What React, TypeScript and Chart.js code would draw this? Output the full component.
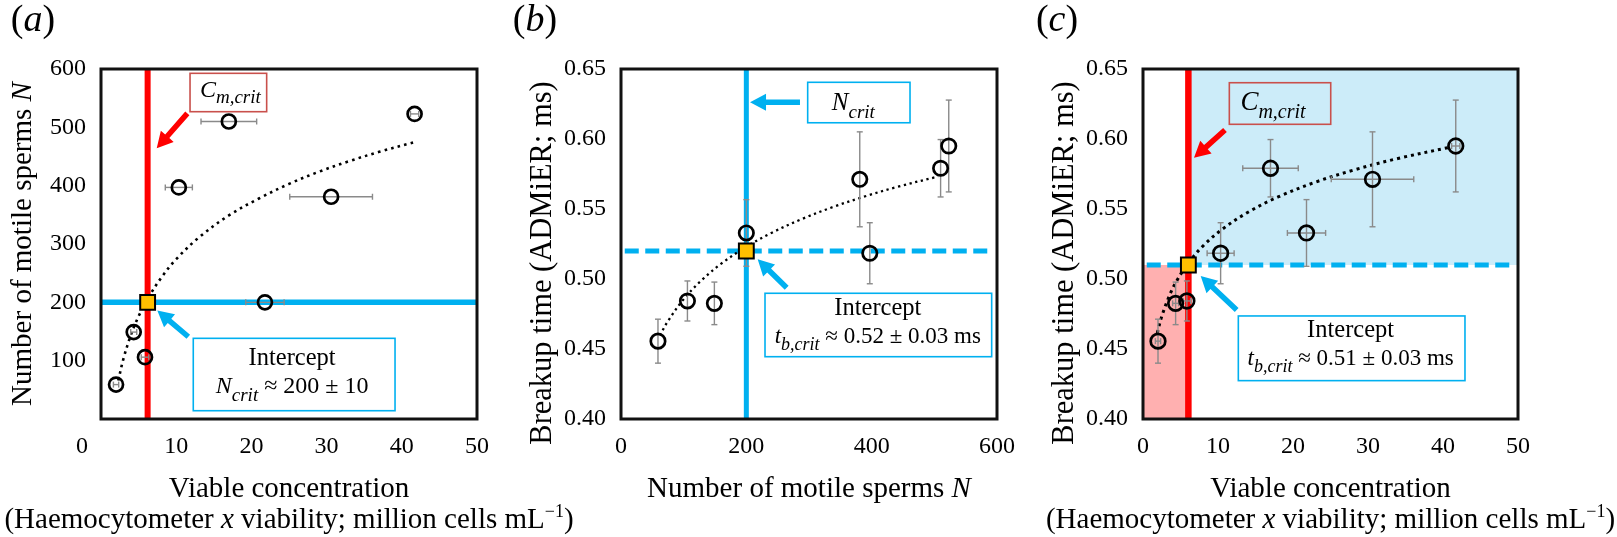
import React, { useEffect, useRef } from 'react';
import { Chart, registerables } from 'chart.js';

Chart.register(...registerables);

const W = 1617;
const H = 537;
const SERIF = "'Liberation Serif', 'Times New Roman', Tinos, 'DejaVu Serif', serif";
const BLUE = '#00b0f0';
const RED = '#ff0000';
const GOLD = '#ffc000';
const ERR_GREY = '#8a8a8a';
const BOX_RED = '#c9504c';
const PINK = '#ffb0b0';
const PALE_BLUE = '#ccecf9';

// ---------- data ----------
const viableConcentration = [2.0, 4.35, 5.85, 10.35, 17.0, 21.8, 30.6, 41.7];
const viableConcentrationErr = [0.35, 0.4, 0.5, 1.8, 3.7, 2.55, 5.5, 0.55];
const motileSperms = [59, 149, 106, 397, 510, 200, 381, 523];
const breakupTime = [0.4556, 0.4826, 0.4843, 0.5184, 0.5791, 0.5329, 0.5712, 0.595];
const breakupTimeErr = [0.0157, 0.0152, 0.0143, 0.0218, 0.0205, 0.0238, 0.0339, 0.0328];

// dotted trend lines
const trendA_x = [2.3, 3, 4, 5, 6.2, 8, 10, 13, 17, 21, 25, 29, 33, 37, 41.5];
const trendA_y = [66, 104, 145, 176, 206, 242, 274, 311, 349, 378, 403, 424, 442, 458, 474];
const trendB_x = [62, 75, 100, 130, 160, 198, 240, 290, 340, 390, 440, 506];
const trendB_y = [0.4597, 0.47, 0.4856, 0.4997, 0.511, 0.5225, 0.5329, 0.5431, 0.5517, 0.5591, 0.5657, 0.5732];
const trendC_x = [1.9, 2.5, 3.5, 4.5, 6.0, 8, 10.5, 14, 18, 23, 28, 34, 40.9];
const trendC_y = [0.4614, 0.4733, 0.4878, 0.4987, 0.5111, 0.5236, 0.5353, 0.5477, 0.5586, 0.5692, 0.5777, 0.5861, 0.5941];

// critical values
const nCrit = 200;
const cmCritA = 6.2;
const cmCritC = 6.05;
const tbCritB = 0.52;
const tbCritC = 0.51;

// tick values
const ticksConc = [0, 10, 20, 30, 40, 50];
const ticksMotile = [100, 200, 300, 400, 500, 600];
const ticksMotileX = [0, 200, 400, 600];
const ticksTime = [0.4, 0.45, 0.5, 0.55, 0.6, 0.65];

// ---------- drawing helpers ----------
type Seg = { t: string; s: number; it?: boolean; dy?: number };
type Box4 = [number, number, number, number];
const fnt = (s: number, it = false) => `${it ? 'italic ' : ''}${s}px ${SERIF}`;

function richWidth(ctx: CanvasRenderingContext2D, segs: Seg[]) {
  let w = 0;
  for (const g of segs) {
    ctx.font = fnt(g.s, g.it);
    w += ctx.measureText(g.t).width;
  }
  return w;
}

function drawRich(ctx: CanvasRenderingContext2D, segs: Seg[], cx: number, y: number) {
  const w = richWidth(ctx, segs);
  let x = cx - w / 2;
  ctx.textAlign = 'left';
  ctx.textBaseline = 'alphabetic';
  ctx.fillStyle = '#000';
  for (const g of segs) {
    ctx.font = fnt(g.s, g.it);
    ctx.fillText(g.t, x, y + (g.dy || 0));
    x += ctx.measureText(g.t).width;
  }
}

function drawRichUp(ctx: CanvasRenderingContext2D, segs: Seg[], x: number, cy: number) {
  ctx.save();
  ctx.translate(x, cy);
  ctx.rotate(-Math.PI / 2);
  drawRich(ctx, segs, 0, 0);
  ctx.restore();
}

function drawArrow(ctx: CanvasRenderingContext2D, x1: number, y1: number, x2: number, y2: number, color: string) {
  const shaft = 5.5, headL = 16, headW = 17;
  const ang = Math.atan2(y2 - y1, x2 - x1);
  const len = Math.hypot(x2 - x1, y2 - y1);
  ctx.save();
  ctx.translate(x1, y1);
  ctx.rotate(ang);
  ctx.beginPath();
  ctx.moveTo(0, -shaft / 2);
  ctx.lineTo(len - headL, -shaft / 2);
  ctx.lineTo(len - headL, -headW / 2);
  ctx.lineTo(len, 0);
  ctx.lineTo(len - headL, headW / 2);
  ctx.lineTo(len - headL, shaft / 2);
  ctx.lineTo(0, shaft / 2);
  ctx.closePath();
  ctx.fillStyle = color;
  ctx.fill();
  ctx.restore();
}

type Annotation = {
  critBox: Box4; critColor: string; critSegs: Seg[]; critDx: number; critBase: number;
  critArrow: Box4; critArrowColor: string;
  interBox: Box4; interDx: number; interBase1: number; interBase2: number; interSegs: Seg[];
  interArrow: Box4;
};

type PanelSpec = {
  tag: string; tagX: number;
  box: Box4;
  xRange: [number, number]; yRange: [number, number];
  xTicks: number[]; yTicks: number[]; yDigits: number;
  shiftedZero?: boolean;
  xs: number[]; ys: number[]; ex?: number[]; ey?: number[];
  trendX: number[]; trendY: number[]; trendWidth: number; trendDash: number[];
  markerRadius: number;
  crit: [number, number];
  refLines: any[];
  shading?: any[];
  ann: Annotation;
  yTitle: Seg[]; yTitleDy: number;
  xTitle: Seg[][];
};

const refLine = (pts: { x: number; y: number }[], color: string, width: number, order: number, dash: number[] = []) => ({
  type: 'line', label: 'ref', data: pts, borderColor: color, borderWidth: width, borderDash: dash,
  pointRadius: 0, fill: false, tension: 0, order,
});

const shade = (pts: { x: number; y: number }[], fill: any, color: string) => ({
  type: 'line', label: 'shade', data: pts, borderColor: 'rgba(0,0,0,0)', borderWidth: 1,
  pointRadius: 0, fill, backgroundColor: color, tension: 0, order: 10,
});

function drawErrorBars(chart: any, p: PanelSpec) {
  const ctx: CanvasRenderingContext2D = chart.ctx;
  const X = chart.scales.x, Y = chart.scales.y;
  const cap = 3;
  ctx.save();
  ctx.strokeStyle = ERR_GREY;
  ctx.lineWidth = 1.4;
  const seg = (a: number, b: number, c: number, d: number) => {
    ctx.beginPath(); ctx.moveTo(a, b); ctx.lineTo(c, d); ctx.stroke();
  };
  p.xs.forEach((xv, i) => {
    const yv = p.ys[i];
    const px = X.getPixelForValue(xv), py = Y.getPixelForValue(yv);
    if (p.ex) {
      const a = X.getPixelForValue(xv - p.ex[i]), b = X.getPixelForValue(xv + p.ex[i]);
      seg(a, py, b, py); seg(a, py - cap, a, py + cap); seg(b, py - cap, b, py + cap);
    }
    if (p.ey) {
      const a = Y.getPixelForValue(yv - p.ey[i]), b = Y.getPixelForValue(yv + p.ey[i]);
      seg(px, a, px, b); seg(px - cap, a, px + cap, a); seg(px - cap, b, px + cap, b);
    }
  });
  ctx.restore();
}

function drawAnnotation(chart: any, a: Annotation) {
  const ctx: CanvasRenderingContext2D = chart.ctx;
  const X = chart.scales.x, Y = chart.scales.y;
  const px = (v: number) => X.getPixelForValue(v);
  const py = (v: number) => Y.getPixelForValue(v);
  const box = (b: Box4) => {
    const x1 = px(b[0]), y1 = py(b[1]), x2 = px(b[2]), y2 = py(b[3]);
    return { l: Math.min(x1, x2), t: Math.min(y1, y2), r: Math.max(x1, x2), b: Math.max(y1, y2) };
  };
  const cb = box(a.critBox);
  ctx.save();
  ctx.strokeStyle = a.critColor; ctx.lineWidth = 1.6;
  ctx.strokeRect(cb.l, cb.t, cb.r - cb.l, cb.b - cb.t);
  ctx.restore();
  drawRich(ctx, a.critSegs, (cb.l + cb.r) / 2 + a.critDx, cb.t + a.critBase);
  drawArrow(ctx, px(a.critArrow[0]), py(a.critArrow[1]), px(a.critArrow[2]), py(a.critArrow[3]), a.critArrowColor);

  const ib = box(a.interBox);
  ctx.save();
  ctx.strokeStyle = BLUE; ctx.lineWidth = 1.6;
  ctx.strokeRect(ib.l, ib.t, ib.r - ib.l, ib.b - ib.t);
  ctx.restore();
  const icx = (ib.l + ib.r) / 2 + a.interDx;
  drawRich(ctx, [{ t: 'Intercept', s: 24.5 }], icx, ib.t + a.interBase1);
  drawRich(ctx, a.interSegs, icx, ib.t + a.interBase2);
  drawArrow(ctx, px(a.interArrow[0]), py(a.interArrow[1]), px(a.interArrow[2]), py(a.interArrow[3]), BLUE);
}

const X_TICK_PAD = 13;

function makeConfig(p: PanelSpec): any {
  const [L, T, R, B] = p.box;
  const YW = 100, XH = 48;
  const pts = p.xs.map((x, i) => ({ x, y: p.ys[i] }));
  const trend = p.trendX.map((x, i) => ({ x, y: p.trendY[i] }));
  const datasets = [
    ...(p.shading || []),
    ...p.refLines,
    {
      type: 'line', label: 'trend', data: trend, borderColor: '#000', borderWidth: p.trendWidth,
      borderDash: p.trendDash, pointRadius: 0, tension: 0.35, fill: false, order: 6,
    },
    {
      type: 'scatter', label: 'points', data: pts, pointRadius: p.markerRadius, pointBorderWidth: 2.7,
      pointBorderColor: '#000', pointBackgroundColor: 'rgba(0,0,0,0)', borderColor: '#000',
      backgroundColor: 'rgba(0,0,0,0)', order: 4,
    },
    {
      type: 'scatter', label: 'crit', data: [{ x: p.crit[0], y: p.crit[1] }], pointStyle: 'rect',
      pointRadius: 10.5, pointBorderWidth: 2, pointBorderColor: '#000', pointBackgroundColor: GOLD,
      borderColor: '#000', backgroundColor: GOLD, order: 2,
    },
  ];
  const tickFont = { family: SERIF, size: 24 };
  const decor = {
    id: 'decor',
    afterDatasetDraw(chart: any, args: any) {
      if (chart.data.datasets[args.index].label !== 'trend') return;
      drawErrorBars(chart, p);
    },
    afterDraw(chart: any) {
      const ctx: CanvasRenderingContext2D = chart.ctx;
      const ca = chart.chartArea;
      ctx.save();
      ctx.strokeStyle = '#111';
      ctx.lineWidth = 3;
      ctx.strokeRect(ca.left, ca.top, ca.right - ca.left, ca.bottom - ca.top);
      ctx.restore();
      if (p.shiftedZero) {
        ctx.save();
        ctx.font = fnt(24);
        ctx.fillStyle = '#000';
        ctx.textAlign = 'center';
        ctx.textBaseline = 'middle';
        ctx.fillText('0', chart.scales.x.getPixelForValue(0) - 19, ca.bottom + X_TICK_PAD + 14.4);
        ctx.restore();
      }
      drawAnnotation(chart, p.ann);
      drawRichUp(ctx, p.yTitle, ca.left - 70, (ca.top + ca.bottom) / 2 + p.yTitleDy);
      p.xTitle.forEach((line, i) => drawRich(ctx, line, (ca.left + ca.right) / 2, ca.bottom + 78 + i * 31));
      drawRich(ctx, [{ t: '(', s: 38 }, { t: p.tag, s: 38, it: true }, { t: ')', s: 38 }], p.tagX, 31);
    },
  };
  return {
    type: 'scatter',
    data: { datasets },
    options: {
      responsive: false,
      animation: false,
      devicePixelRatio: 1,
      events: [],
      layout: { padding: { left: L - YW, top: T, right: W - R, bottom: H - B - XH } },
      plugins: { legend: { display: false }, tooltip: { enabled: false }, title: { display: false } },
      scales: {
        x: {
          type: 'linear', min: p.xRange[0], max: p.xRange[1],
          grid: { display: false, drawTicks: false, tickLength: 0 }, border: { display: false },
          ticks: {
            color: '#000', font: tickFont, padding: X_TICK_PAD, maxRotation: 0, autoSkip: false,
            callback: (v: any) => (p.shiftedZero && Number(v) === 0 ? '' : String(v)),
          },
          afterBuildTicks: (s: any) => { s.ticks = p.xTicks.map((value) => ({ value })); },
          afterFit: (s: any) => { s.height = XH; },
        },
        y: {
          type: 'linear', min: p.yRange[0], max: p.yRange[1],
          grid: { display: false, drawTicks: false, tickLength: 0 }, border: { display: false },
          ticks: {
            color: '#000', font: tickFont, padding: 15, autoSkip: false,
            callback: (v: any) => Number(v).toFixed(p.yDigits),
          },
          afterBuildTicks: (s: any) => { s.ticks = p.yTicks.map((value) => ({ value })); },
          afterFit: (s: any) => { s.width = YW; },
        },
      },
    },
    plugins: [decor],
  };
}

const concTitle: Seg[][] = [
  [{ t: 'Viable concentration', s: 29 }],
  [
    { t: '(Haemocytometer ', s: 29 },
    { t: 'x', s: 29, it: true },
    { t: ' viability; million cells mL', s: 29 },
    { t: '\u22121', s: 18, dy: -11 },
    { t: ')', s: 29 },
  ],
];
const motileTitle: Seg[] = [{ t: 'Number of motile sperms ', s: 29 }, { t: 'N', s: 29, it: true }];
const timeTitle: Seg[] = [{ t: 'Breakup time (ADMiER; ms)', s: 30.5 }];

const panelA: PanelSpec = {
  tag: 'a', tagX: 33,
  box: [101, 69, 477, 419],
  xRange: [0, 50], yRange: [0, 600],
  xTicks: ticksConc, yTicks: ticksMotile, yDigits: 0, shiftedZero: true,
  xs: viableConcentration, ys: motileSperms, ex: viableConcentrationErr,
  trendX: trendA_x, trendY: trendA_y, trendWidth: 2.6, trendDash: [2.6, 4.2],
  markerRadius: 7,
  crit: [cmCritA, nCrit],
  refLines: [
    refLine([{ x: 0, y: nCrit }, { x: 50, y: nCrit }], BLUE, 5.5, 8),
    refLine([{ x: cmCritA, y: 0 }, { x: cmCritA, y: 600 }], RED, 6, 7),
  ],
  ann: {
    critBox: [11.84, 592.6, 22.03, 526.8], critColor: BOX_RED,
    critSegs: [{ t: 'C', s: 24, it: true }, { t: 'm,crit', s: 19, it: true, dy: 6 }], critDx: 2, critBase: 23.4,
    critArrow: [11.48, 524, 7.41, 464], critArrowColor: RED,
    interBox: [12.27, 138.3, 39.1, 14.2], interDx: -2, interBase1: 26.7, interBase2: 55,
    interSegs: [{ t: 'N', s: 24, it: true }, { t: 'crit', s: 19, it: true, dy: 8 }, { t: ' \u2248 200 \u00b1 10', s: 24 }],
    interArrow: [11.61, 141, 7.49, 186],
  },
  yTitle: motileTitle, yTitleDy: 0,
  xTitle: concTitle,
};

const panelB: PanelSpec = {
  tag: 'b', tagX: 535,
  box: [621, 69, 997, 419],
  xRange: [0, 600], yRange: [0.4, 0.65],
  xTicks: ticksMotileX, yTicks: ticksTime, yDigits: 2,
  xs: motileSperms, ys: breakupTime, ey: breakupTimeErr,
  trendX: trendB_x, trendY: trendB_y, trendWidth: 2.3, trendDash: [2.3, 3.6],
  markerRadius: 7.2,
  crit: [nCrit, tbCritB],
  refLines: [
    refLine([{ x: nCrit, y: 0.4 }, { x: nCrit, y: 0.65 }], BLUE, 5, 8),
    refLine([{ x: 6, y: tbCritB }, { x: 591, y: tbCritB }], BLUE, 5, 7, [14, 6.5]),
  ],
  ann: {
    critBox: [297.9, 0.6405, 461.2, 0.6116], critColor: BLUE,
    critSegs: [{ t: 'N', s: 25, it: true }, { t: 'crit', s: 19, it: true, dy: 8 }], critDx: -5.5, critBase: 27.7,
    critArrow: [285.6, 0.6262, 205.9, 0.6262], critArrowColor: BLUE,
    interBox: [229.8, 0.4898, 591.5, 0.4445], interDx: -0.5, interBase1: 21.7, interBase2: 49.4,
    interSegs: [{ t: 't', s: 23, it: true }, { t: 'b,crit', s: 18, it: true, dy: 7 }, { t: ' \u2248 0.52 \u00b1 0.03 ms', s: 23 }],
    interArrow: [264.4, 0.4938, 218.1, 0.5141],
  },
  yTitle: timeTitle, yTitleDy: 19,
  xTitle: [motileTitle],
};

const panelC: PanelSpec = {
  tag: 'c', tagX: 1057,
  box: [1143, 69, 1518, 419],
  xRange: [0, 50], yRange: [0.4, 0.65],
  xTicks: ticksConc, yTicks: ticksTime, yDigits: 2,
  xs: viableConcentration, ys: breakupTime, ex: viableConcentrationErr, ey: breakupTimeErr,
  trendX: trendC_x, trendY: trendC_y, trendWidth: 3, trendDash: [3, 4],
  markerRadius: 7.3,
  crit: [cmCritC, tbCritC],
  shading: [
    shade([{ x: 0, y: tbCritC }, { x: cmCritC, y: tbCritC }], 'start', PINK),
    shade([{ x: cmCritC, y: 0.65 }, { x: 50, y: 0.65 }], { value: tbCritC }, PALE_BLUE),
  ],
  refLines: [
    refLine([{ x: 0.5, y: tbCritC }, { x: 49.5, y: tbCritC }], BLUE, 5, 8, [14, 6.5]),
    refLine([{ x: cmCritC, y: 0.4 }, { x: cmCritC, y: 0.65 }], RED, 6.5, 7),
  ],
  ann: {
    critBox: [11.51, 0.6402, 25.03, 0.6105], critColor: BOX_RED,
    critSegs: [{ t: 'C', s: 27, it: true }, { t: 'm,crit', s: 20, it: true, dy: 8 }], critDx: -7, critBase: 27.3,
    critArrow: [10.93, 0.6064, 6.8, 0.5866], critArrowColor: RED,
    interBox: [12.71, 0.4736, 42.93, 0.4274], interDx: -1, interBase1: 20.7, interBase2: 49,
    interSegs: [{ t: 't', s: 23, it: true }, { t: 'b,crit', s: 18, it: true, dy: 7 }, { t: ' \u2248 0.51 \u00b1 0.03 ms', s: 23 }],
    interArrow: [12.49, 0.4779, 7.69, 0.5021],
  },
  yTitle: timeTitle, yTitleDy: 19,
  xTitle: concTitle,
};

function Panel({ spec }: { spec: PanelSpec }) {
  const ref = useRef<HTMLCanvasElement | null>(null);
  useEffect(() => {
    let chart: Chart | null = null;
    let cancelled = false;
    const build = () => {
      if (cancelled || chart || !ref.current) return;
      chart = new Chart(ref.current, makeConfig(spec));
    };
    const fonts: any = (document as any).fonts;
    if (fonts && fonts.load) {
      Promise.all([
        fonts.load(`24px "Liberation Serif"`),
        fonts.load(`italic 24px "Liberation Serif"`),
      ]).then(build, build);
      setTimeout(build, 1500);
    } else {
      build();
    }
    return () => {
      cancelled = true;
      if (chart) chart.destroy();
    };
  }, [spec]);
  return (
    <canvas
      ref={ref}
      width={W}
      height={H}
      style={{ position: 'absolute', left: 0, top: 0, width: W, height: H }}
    />
  );
}

export default function App() {
  return (
    <div
      style={{
        position: 'fixed', left: 0, top: 0, width: W, height: H, background: '#fff', overflow: 'hidden',
        fontFamily: SERIF,
      }}
    >
      <span style={{ position: 'absolute', left: -9999, top: 0, fontFamily: SERIF }}>
        Aa <i>Aa</i>
      </span>
      <Panel spec={panelA} />
      <Panel spec={panelB} />
      <Panel spec={panelC} />
    </div>
  );
}
